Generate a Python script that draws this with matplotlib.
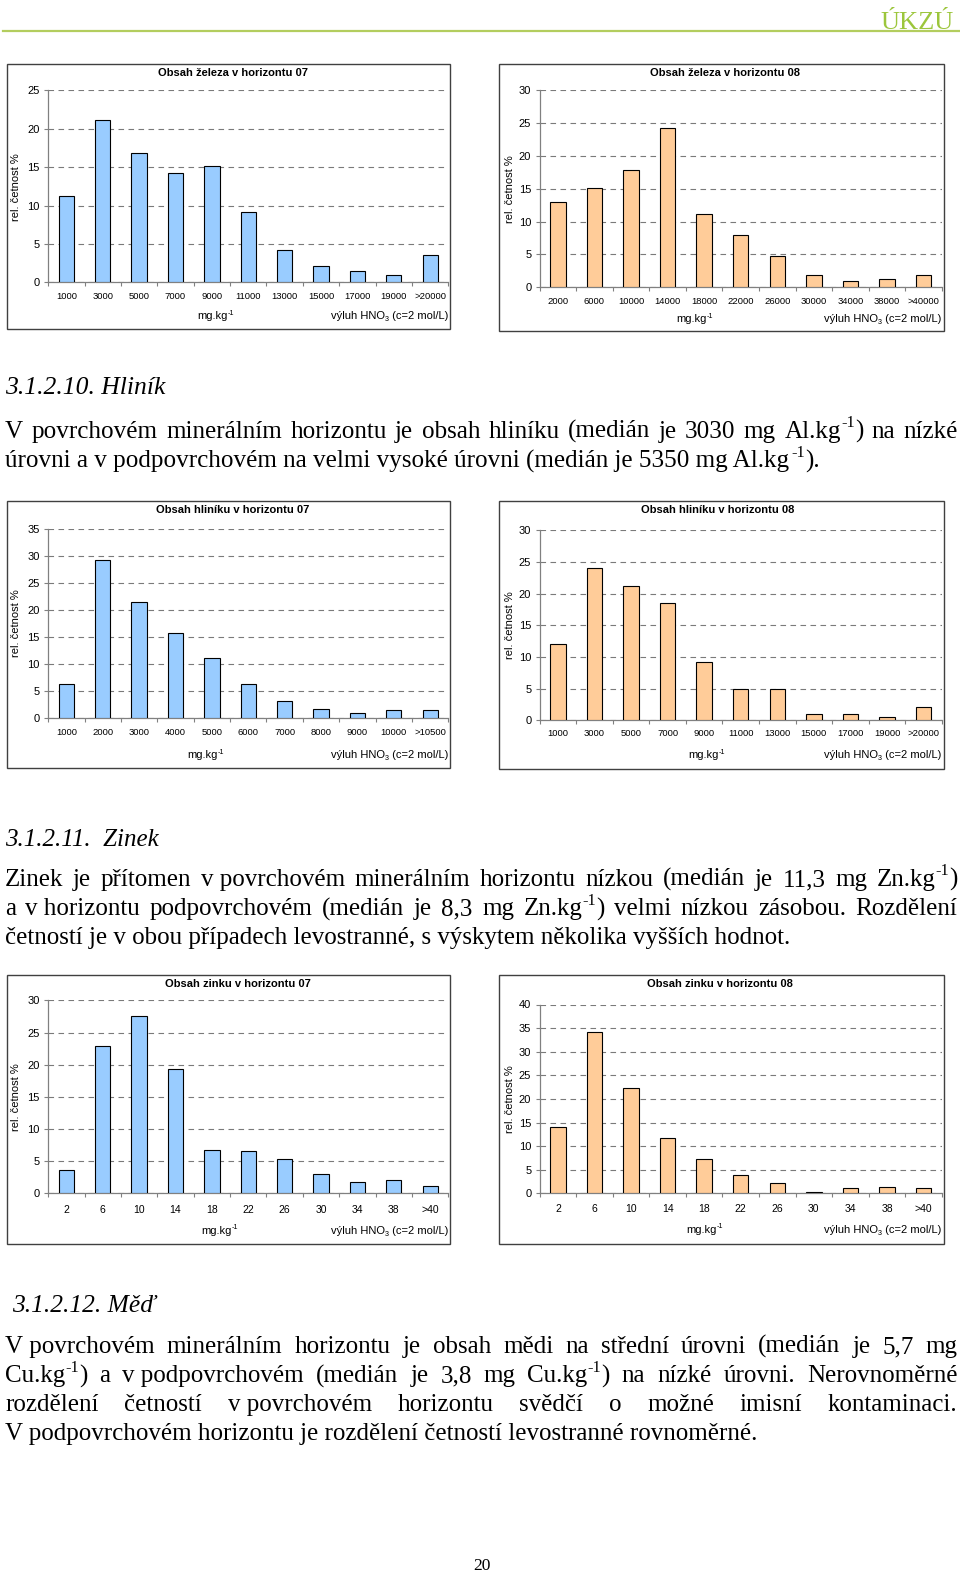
import re
import numpy as np
import matplotlib
matplotlib.use('Agg')
import matplotlib.pyplot as plt
from matplotlib.patches import Rectangle
from matplotlib.lines import Line2D
import matplotlib.transforms as mtransforms

# ---------------- data ----------------
fe07_labels = ["1000", "3000", "5000", "7000", "9000", "11000", "13000", "15000", "17000", "19000", ">20000"]
fe07_values = [11.3, 21.1, 16.9, 14.3, 15.1, 9.2, 4.2, 2.1, 1.5, 0.9, 3.6]

fe08_labels = ["2000", "6000", "10000", "14000", "18000", "22000", "26000", "30000", "34000", "38000", ">40000"]
fe08_values = [13.0, 15.2, 17.8, 24.2, 11.1, 7.9, 4.7, 1.9, 1.0, 1.2, 1.9]

al07_labels = ["1000", "2000", "3000", "4000", "5000", "6000", "7000", "8000", "9000", "10000", ">10500"]
al07_values = [6.4, 29.3, 21.5, 15.8, 11.2, 6.4, 3.2, 1.7, 0.9, 1.5, 1.5]

al08_labels = ["1000", "3000", "5000", "7000", "9000", "11000", "13000", "15000", "17000", "19000", ">20000"]
al08_values = [12.1, 24.1, 21.2, 18.5, 9.2, 5.0, 5.0, 1.0, 1.0, 0.5, 2.1]

zn_labels = ["2", "6", "10", "14", "18", "22", "26", "30", "34", "38", ">40"]
zn07_values = [3.6, 22.9, 27.6, 19.3, 6.8, 6.6, 5.4, 3.0, 1.8, 2.1, 1.1]
zn08_values = [14.0, 34.2, 22.3, 11.8, 7.2, 3.8, 2.1, 0.3, 1.2, 1.4, 1.2]

titles = ["Obsah železa v horizontu 07", "Obsah železa v horizontu 08",
          "Obsah hliníku v horizontu 07", "Obsah hliníku v horizontu 08",
          "Obsah zinku v horizontu 07", "Obsah zinku v horizontu 08"]
y_maxima = [25, 30, 35, 30, 30, 40]
ylabel_text = "rel. četnost %"
unit_text = "mg.kg^{-1}"
note_text = "výluh HNO_{3} (c=2 mol/L)"

header_text = "ÚKZÚ"
page_number = "20"

NB = "\u00a0"
al_heading = "3.1.2.10. Hliník"
al_lines = ["V povrchovém minerálním horizontu je obsah hliníku (medián je 3030 mg Al.kg^{-1}) na nízké",
            "úrovni a v podpovrchovém na velmi vysoké úrovni (medián je 5350 mg Al.kg^{-1})."]
zn_heading = "3.1.2.11.  Zinek"
zn_lines = ["Zinek je přítomen v" + NB + "povrchovém minerálním horizontu nízkou (medián je 11,3 mg Zn.kg^{-1})",
            "a v" + NB + "horizontu podpovrchovém (medián je 8,3 mg Zn.kg^{-1}) velmi nízkou zásobou. Rozdělení",
            "četností je v obou případech levostranné, s výskytem několika vyšších hodnot."]
cu_heading = "3.1.2.12. Měď"
cu_lines = ["V" + NB + "povrchovém minerálním horizontu je obsah mědi na střední úrovni (medián je 5,7 mg",
            "Cu.kg^{-1}) a v" + NB + "podpovrchovém (medián je 3,8 mg Cu.kg^{-1}) na nízké úrovni. Nerovnoměrné",
            "rozdělení četností v" + NB + "povrchovém horizontu svědčí o možné imisní kontaminaci.",
            "V podpovrchovém horizontu je rozdělení četností levostranné rovnoměrné."]

# ---------------- figure ----------------
W, H = 960, 1575
SX, SY = 1.003, 1.0045
plt.rcParams['font.family'] = ['Liberation Sans', 'DejaVu Sans']
fig = plt.figure(figsize=(W / 100, H / 100), dpi=100)
fig.patch.set_facecolor('white')


def fx(x):
    return x * SX / W


def fy(y):
    return 1 - y * SY / H


BLUE = '#99CCFF'
ORANGE = '#FFCC99'
SERIF = ['Liberation Serif', 'DejaVu Serif']
SANS = ['Liberation Sans', 'DejaVu Sans']
renderer = fig.canvas.get_renderer()


def measure(s, size, family, style='normal', weight='normal'):
    t1 = fig.text(0, 0, '|' + s + '|', fontsize=size, family=family, style=style, weight=weight)
    t2 = fig.text(0, 0, '||', fontsize=size, family=family, style=style, weight=weight)
    w = t1.get_window_extent(renderer=renderer).width - t2.get_window_extent(renderer=renderer).width
    t1.remove()
    t2.remove()
    return w


def parse(s):
    out = []
    for p in re.split(r'(\^\{[^}]*\}|_\{[^}]*\})', s):
        if not p:
            continue
        if p.startswith('^{'):
            out.append((p[2:-1], 'sup'))
        elif p.startswith('_{'):
            out.append((p[2:-1], 'sub'))
        else:
            out.append((p, 'n'))
    return out


def seg_props(kind, size):
    if kind == 'sup':
        return size * 0.65, size * 0.42 * 100 / 72
    if kind == 'sub':
        return size * 0.65, -size * 0.18 * 100 / 72
    return size, 0.0


def rich_width(s, size, family, style='normal', weight='normal'):
    total = 0.0
    for txt, kind in parse(s):
        sz, _ = seg_props(kind, size)
        total += measure(txt, sz, family, style, weight)
    return total


def rich_draw(s, x, y, size, family, style='normal', weight='normal', ha='left', color='black'):
    width = rich_width(s, size, family, style, weight)
    if ha == 'center':
        x = x - width / 2
    elif ha == 'right':
        x = x - width
    for txt, kind in parse(s):
        sz, dy = seg_props(kind, size)
        fig.text(fx(x), fy(y) + dy / H, txt, fontsize=sz, family=family, style=style,
                 weight=weight, ha='left', va='baseline', color=color)
        x += measure(txt, sz, family, style, weight)
    return width


# layout per chart
layouts = [
    dict(border=(7, 64, 449, 328), plot=(48, 90, 447, 281), title=(232, 73), ticky=295, unit=(215, 318), notey=318, yl=(16, 186), xfs=6.8),
    dict(border=(498, 64, 941, 330), plot=(538, 90, 939, 286), title=(723, 73), ticky=300, unit=(693, 321), notey=321, yl=(508, 188), xfs=6.8),
    dict(border=(7, 499, 449, 765), plot=(48, 527, 447, 715), title=(232, 508), ticky=729, unit=(205, 755), notey=755, yl=(16, 620), xfs=6.8),
    dict(border=(498, 499, 941, 766), plot=(538, 528, 939, 717), title=(716, 508), ticky=730, unit=(705, 755), notey=755, yl=(508, 622), xfs=6.8),
    dict(border=(7, 971, 449, 1238), plot=(48, 996, 447, 1188), title=(237, 980), ticky=1205, unit=(219, 1228), notey=1228, yl=(16, 1092), xfs=7.5),
    dict(border=(498, 971, 941, 1238), plot=(538, 1000, 939, 1188), title=(718, 980), ticky=1204, unit=(703, 1227), notey=1227, yl=(508, 1094), xfs=7.5),
]
series = [(fe07_labels, fe07_values, BLUE), (fe08_labels, fe08_values, ORANGE),
          (al07_labels, al07_values, BLUE), (al08_labels, al08_values, ORANGE),
          (zn_labels, zn07_values, BLUE), (zn_labels, zn08_values, ORANGE)]

for lay, (labels, values, color), title, ymax in zip(layouts, series, titles, y_maxima):
    bx0, by0, bx1, by1 = lay['border']
    fig.patches.append(Rectangle((fx(bx0), fy(by1)), fx(bx1) - fx(bx0), fy(by0) - fy(by1),
                                 transform=fig.transFigure, fill=False, ec='#404040', lw=1.0))
    l, t, r, b = lay['plot']
    ax = fig.add_axes([fx(l), fy(b), fx(r) - fx(l), fy(t) - fy(b)])
    ax.patch.set_alpha(0)
    n = len(values)
    x = np.arange(n)
    ax.bar(x, values, width=0.42, color=color, edgecolor='black', linewidth=0.8, zorder=3)
    ax.set_xlim(-0.5, n - 0.5)
    ax.set_ylim(0, ymax)
    ax.set_yticks(np.arange(0, ymax + 1, 5))
    ax.yaxis.grid(True, color='#7a7a7a', linestyle=(0, (5, 4)), linewidth=0.8)
    ax.set_axisbelow(True)
    for sp in ['top', 'right']:
        ax.spines[sp].set_visible(False)
    for sp in ['left', 'bottom']:
        ax.spines[sp].set_color('#808080')
        ax.spines[sp].set_linewidth(0.9)
    ax.set_xticks(np.arange(-0.5, n, 1.0))
    ax.set_xticklabels([])
    ax.tick_params(axis='x', direction='out', length=3, color='#808080', width=0.8)
    ax.tick_params(axis='y', direction='out', length=3, color='#808080', width=0.8,
                   labelsize=8, pad=3)
    trans = mtransforms.blended_transform_factory(ax.transData, fig.transFigure)
    for i, lab in enumerate(labels):
        ax.text(i, fy(lay['ticky']), lab, transform=trans, ha='center', va='center',
                fontsize=lay['xfs'], clip_on=False)
    fig.text(fx(lay['title'][0]), fy(lay['title'][1]), title, ha='center', va='center',
             fontsize=8, fontweight='bold')
    rich_draw(unit_text, lay['unit'][0], lay['unit'][1], 8, SANS, ha='center')
    rich_draw(note_text, r, lay['notey'], 8, SANS, ha='right')
    fig.text(fx(lay['yl'][0]), fy(lay['yl'][1]), ylabel_text, rotation=90, ha='center',
             va='center', fontsize=8)

# ---------------- header ----------------
fig.text(fx(951), fy(28.5), header_text, ha='right', va='baseline', family=SERIF,
         fontsize=19, color='#9cc63c')
fig.add_artist(Line2D([fx(3), fx(956)], [fy(31), fy(31)], color='#b3cd5e', lw=1.6))


# ---------------- body text ----------------
def fit_size(s, target, style='normal'):
    base = 14.0
    return base * target / rich_width(s, base, SERIF, style)


def justified(s, y, size, x0=5, x1=955):
    words = s.split(' ')
    widths = [rich_width(w, size, SERIF) for w in words]
    gap = (x1 - x0 - sum(widths)) / (len(words) - 1)
    xpos = x0
    for w, wd in zip(words, widths):
        rich_draw(w, xpos, y, size, SERIF)
        xpos += wd + gap


def plain(s, y, size, x0=5, style='normal'):
    rich_draw(s, x0, y, size, SERIF, style=style)


# Al paragraph
al_size = fit_size(al_lines[-1], 815)
plain(al_heading, 392, al_size * 1.02, style='italic')
justified(al_lines[0], 436, al_size)
plain(al_lines[1], 465, al_size)

# Zn paragraph
zn_size = fit_size(zn_lines[-1], 788)
plain(zn_heading, 842, zn_size, style='italic')
justified(zn_lines[0], 882, zn_size)
justified(zn_lines[1], 911, zn_size)
plain(zn_lines[2], 940, zn_size)

# Cu paragraph
cu_size = fit_size(cu_lines[-1], 755)
plain(cu_heading, 1306, cu_size * 1.02, x0=12, style='italic')
justified(cu_lines[0], 1347, cu_size)
justified(cu_lines[1], 1376, cu_size)
justified(cu_lines[2], 1405, cu_size)
plain(cu_lines[3], 1434, cu_size)

fig.text(fx(480), fy(1563), page_number, ha='center', va='baseline', family=SERIF, fontsize=12.5)

fig.savefig('out.png', dpi=100, facecolor='white')
